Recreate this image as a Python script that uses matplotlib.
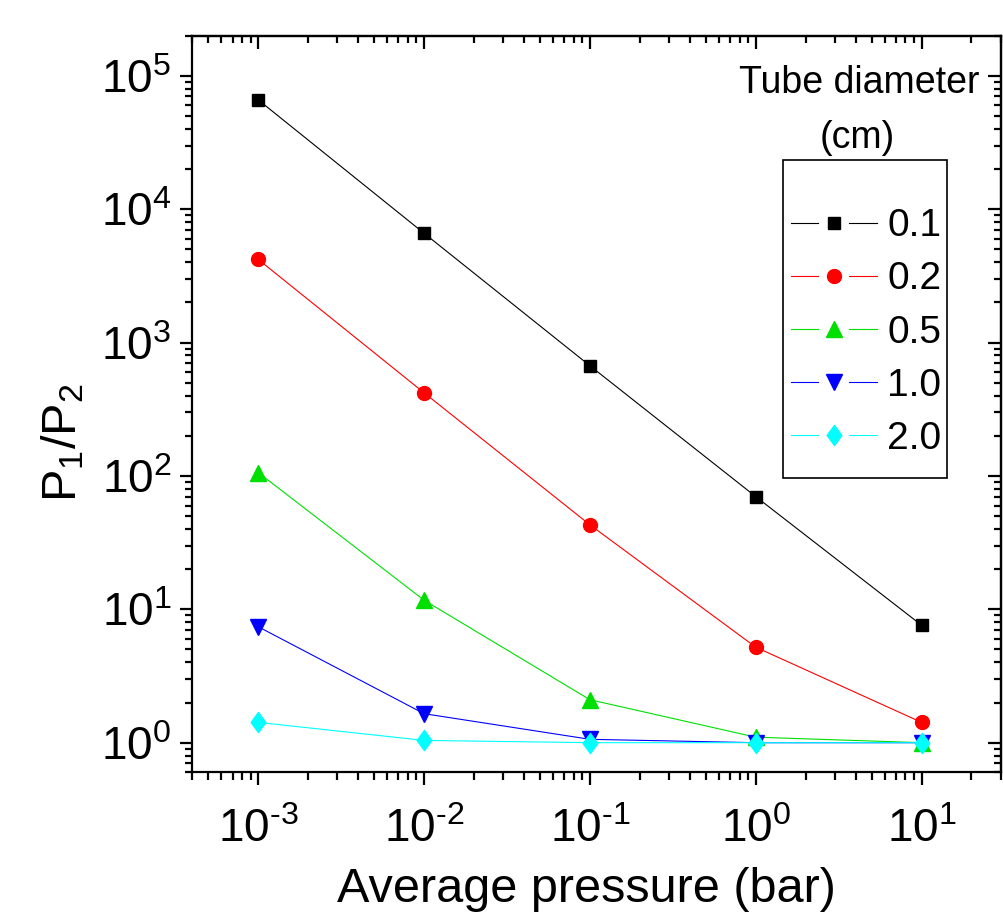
import numpy as np
import matplotlib
matplotlib.use("Agg")
import matplotlib.pyplot as plt
from matplotlib.ticker import LogLocator, NullFormatter, FuncFormatter
from matplotlib.path import Path
from matplotlib.lines import Line2D
from matplotlib.legend_handler import HandlerLine2D
from matplotlib.patches import Rectangle

plt.rcParams['font.family'] = ['Liberation Sans', 'DejaVu Sans']
plt.rcParams['mathtext.fontset'] = 'custom'
plt.rcParams['mathtext.rm'] = 'Liberation Sans'
plt.rcParams['mathtext.it'] = 'Liberation Sans:italic'
plt.rcParams['mathtext.default'] = 'regular'
plt.rcParams['axes.unicode_minus'] = False

# ---- data ----
pressure = [1e-3, 1e-2, 1e-1, 1e0, 1e1]
d_0p1 = [6.6e4, 6.6e3, 670, 70, 7.6]
d_0p2 = [4.2e3, 420, 43, 5.2, 1.42]
d_0p5 = [106, 11.7, 2.1, 1.1, 1.0]
d_1p0 = [7.4, 1.65, 1.06, 1.0, 1.0]
d_2p0 = [1.42, 1.04, 1.0, 1.0, 1.0]
labels = ['0.1', '0.2', '0.5', '1.0', '2.0']
legend_title_1 = 'Tube diameter'
legend_title_2 = '(cm)'
xlabel = 'Average pressure (bar)'
ylabel = 'P$_1$/P$_2$'

series = [d_0p1, d_0p2, d_0p5, d_1p0, d_2p0]
colors = ['#000000', '#ff0000', '#00e000', '#0000ff', '#00ffff']
diamond = Path([(0, 1), (0.73, 0), (0, -1), (-0.73, 0), (0, 1)],
               [Path.MOVETO, Path.LINETO, Path.LINETO, Path.LINETO, Path.CLOSEPOLY])
markers = ['s', 'o', '^', 'v', diamond]
msizes = [8.6, 10, 12, 12, 14.5]


class SplitHandler(HandlerLine2D):
    """Legend handle: line broken around the central marker (Origin style)."""
    def create_artists(self, legend, orig_handle, xdescent, ydescent,
                       width, height, fontsize, trans):
        y = (height - ydescent) / 2.0
        x0 = -xdescent
        x1 = width - xdescent
        xm = (x0 + x1) / 2.0
        gap = 0.18 * width
        arts = []
        for xs in ([x0, xm - gap], [xm + gap, x1]):
            ln = Line2D(xs, [y, y])
            self.update_prop(ln, orig_handle, legend)
            ln.set_marker('None')
            ln.set_transform(trans)
            arts.append(ln)
        mk = Line2D([xm], [y])
        self.update_prop(mk, orig_handle, legend)
        mk.set_linestyle('None')
        mk.set_transform(trans)
        arts.append(mk)
        return arts


def sci_fmt(v, pos):
    e = int(round(np.log10(v)))
    if e < 0:
        return r'$10^{\text{-}%d}$' % (-e)
    return r'$10^{%d}$' % e


fig = plt.figure(figsize=(10.04, 9.24), dpi=100)
ax = fig.add_axes([0.1915, 0.1642, 0.8052, 0.7972])

for y, c, m, ms, lab in zip(series, colors, markers, msizes, labels):
    ax.plot(pressure, y, color=c, lw=0.8, marker=m, ms=ms, mec=c, mfc=c,
            label=lab)

ax.set_xscale('log')
ax.set_yscale('log')
ax.set_xlim(4e-4, 30)
ax.set_ylim(0.6, 2e5)

for axis in (ax.xaxis, ax.yaxis):
    axis.set_major_locator(LogLocator(base=10, numticks=100))
    axis.set_minor_locator(LogLocator(base=10, subs=np.arange(2, 10), numticks=100))
    axis.set_minor_formatter(NullFormatter())
    axis.set_major_formatter(FuncFormatter(sci_fmt))

for s in ax.spines.values():
    s.set_linewidth(1.6)

ax.tick_params(axis='x', which='major', direction='out', length=9.5, width=1.6,
               labelsize=33, pad=16)
ax.tick_params(axis='x', which='minor', direction='out', length=5.5, width=1.6)
ax.tick_params(axis='y', which='major', direction='out', length=9, width=1.6,
               labelsize=33, pad=6)
ax.tick_params(axis='y', which='minor', direction='out', length=5, width=1.6)

# mirrored inward ticks on top/right
sx = ax.secondary_xaxis('top')
sx.set_xscale('log')
sx.xaxis.set_major_locator(LogLocator(base=10, numticks=100))
sx.xaxis.set_minor_locator(LogLocator(base=10, subs=np.arange(2, 10), numticks=100))
sx.tick_params(which='major', direction='in', length=9.5, width=1.6, labeltop=False)
sx.tick_params(which='minor', direction='in', length=5, width=1.6)
sx.xaxis.set_major_formatter(NullFormatter())
sx.xaxis.set_minor_formatter(NullFormatter())
sx.spines['top'].set_linewidth(1.6)

sy = ax.secondary_yaxis('right')
sy.set_yscale('log')
sy.yaxis.set_major_locator(LogLocator(base=10, numticks=100))
sy.yaxis.set_minor_locator(LogLocator(base=10, subs=np.arange(2, 10), numticks=100))
sy.tick_params(which='major', direction='in', length=9.5, width=1.6, labelright=False)
sy.tick_params(which='minor', direction='in', length=5, width=1.6)
sy.yaxis.set_major_formatter(NullFormatter())
sy.yaxis.set_minor_formatter(NullFormatter())
sy.spines['right'].set_linewidth(1.6)

ax.set_xlabel(xlabel, fontsize=35)
ax.set_ylabel(ylabel, fontsize=35)
ax.yaxis.set_label_coords(-0.1315, 0.447)
ax.xaxis.set_label_coords(0.488, -0.128)

leg = ax.legend(loc='center left', bbox_to_anchor=(0.7406, 0.597), borderaxespad=0,
                fontsize=28, frameon=False,
                handlelength=2.2, handletextpad=0.28, borderpad=0.0,
                labelspacing=0.44, numpoints=1,
                handler_map={Line2D: SplitHandler()})

ax.add_patch(Rectangle((0.7307, 0.3995), 0.2029, 0.4317, transform=ax.transAxes,
                       fill=False, edgecolor='black', lw=1.2, zorder=5))

ax.text(0.8247, 0.9358, legend_title_1, transform=ax.transAxes, fontsize=27,
        ha='center', va='center')
ax.text(0.8222, 0.861, legend_title_2, transform=ax.transAxes, fontsize=27,
        ha='center', va='center')

fig.savefig('out.png', dpi=100)
